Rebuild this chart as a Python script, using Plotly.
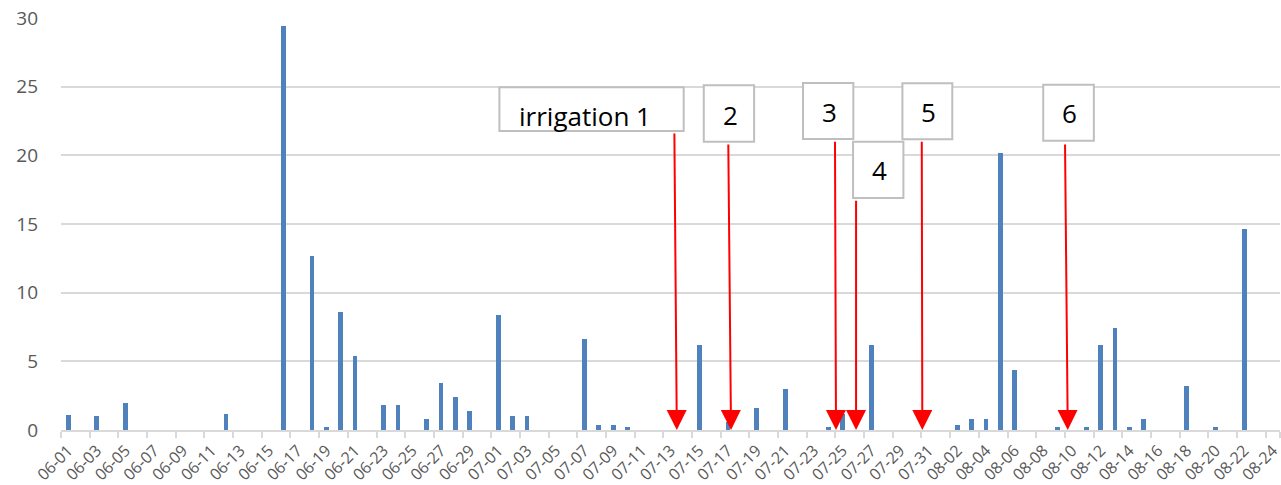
import pandas as pd
import plotly.graph_objects as go

# ---- data ----
dates = pd.date_range("2023-06-01", "2023-08-24", freq="D").strftime("%m-%d").tolist()
rain = [
    1.1, 0, 1.0, 0, 2.0, 0, 0, 0, 0, 0,
    0, 1.2, 0, 0, 0, 29.4, 0, 12.7, 0.2, 8.6,
    5.4, 0, 1.8, 1.8, 0, 0.8, 3.4, 2.4, 1.4, 0,
    8.4, 1.0, 1.0, 0, 0, 0, 6.6, 0.4, 0.4, 0.2,
    0, 0, 0, 0, 6.2, 0, 0.6, 0, 1.6, 0,
    3.0, 0, 0, 0.2, 1.2, 0, 6.2, 0, 0, 0,
    0, 0, 0.4, 0.8, 0.8, 20.2, 4.4, 0, 0, 0.2,
    0, 0.2, 6.2, 7.4, 0.2, 0.8, 0, 0, 3.2, 0,
    0.2, 0, 14.6, 0, 0,
]
label_texts = ["irrigation 1", "2", "3", "4", "5", "6"]

# ---- annotation geometry (data units: day index, y value) ----
arrow_head_x = [42.44, 46.22, 53.54, 54.94, 59.56, 69.70]
arrow_tail_x = [42.27, 46.03, 53.47, 54.94, 59.52, 69.51]
arrow_tail_y = [21.7, 20.9, 21.1, 16.8, 21.1, 20.9]
box_x0 = [30.07, 44.32, 51.24, 54.73, 58.17, 67.99]
box_x1 = [42.92, 47.83, 54.75, 58.24, 61.65, 71.52]
box_y0 = [21.77, 20.99, 21.19, 16.89, 21.17, 21.07]
box_y1 = [24.95, 25.10, 25.27, 20.99, 25.25, 25.14]
text_x = [36.05, 46.15, 53.06, 56.54, 59.96, 69.81]
text_y = [22.85, 22.96, 23.16, 18.93, 23.13, 23.06]

x_idx = list(range(len(dates)))

fig = go.Figure()
fig.add_trace(go.Bar(x=x_idx, y=rain, width=0.33, marker=dict(color="#4f81bd", line=dict(width=0)),
                     showlegend=False))

shapes = []
annotations = []
for i in range(len(label_texts)):
    shapes.append(dict(type="rect", xref="x", yref="y",
                       x0=box_x0[i], x1=box_x1[i], y0=box_y0[i], y1=box_y1[i],
                       line=dict(color="#bfbfbf", width=2), fillcolor="white", layer="above"))
    annotations.append(dict(x=text_x[i], y=text_y[i], xref="x", yref="y", text=label_texts[i],
                            showarrow=False, font=dict(family="Open Sans", size=26, color="#000000"),
                            xanchor="center", yanchor="middle"))
    annotations.append(dict(x=arrow_head_x[i], y=0, xref="x", yref="y",
                            ax=arrow_tail_x[i], ay=arrow_tail_y[i], axref="x", ayref="y",
                            text="", showarrow=True, arrowhead=2, arrowsize=2.0, arrowwidth=2,
                            arrowcolor="#ff0000"))

fig.update_layout(
    width=1281, height=485,
    margin=dict(l=61, r=1, t=18, b=55),
    paper_bgcolor="white", plot_bgcolor="white",
    bargap=0,
    shapes=shapes, annotations=annotations,
    font=dict(family="Open Sans", color="#595959"),
)
fig.update_xaxes(
    range=[-0.5, len(dates) - 0.5], automargin=False,
    tickmode="array", tickvals=x_idx[::2], ticktext=dates[::2],
    tickangle=-45, tickfont=dict(size=16, color="#595959"),
    ticks="", showgrid=False, zeroline=False, ticklabelstandoff=3,
    ticklabeloverflow="allow",
    showline=True, linecolor="#d9d9d9", linewidth=2,
    minor=dict(tickmode="array", tickvals=[v - 0.5 for v in x_idx[::2]] + [len(dates) - 0.5],
               ticks="outside", ticklen=6, tickcolor="#d9d9d9", tickwidth=1.5, showgrid=False),
)
fig.update_yaxes(
    range=[0, 30], dtick=5, tick0=0, automargin=False,
    showgrid=True, gridcolor="#d9d9d9", gridwidth=1.8,
    zeroline=False, showline=False, ticks="",
    tickfont=dict(size=19, color="#595959"), ticklabelstandoff=22,
)

# remove the default 8px page margin so the figure fills the window exactly
fig.write_html("out.html",
               config={"displayModeBar": False},
               post_script="document.body.style.margin='0';document.body.style.overflow='hidden';")
